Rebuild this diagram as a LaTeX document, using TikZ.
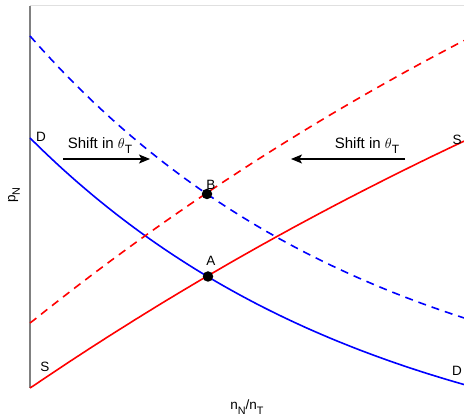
\documentclass[tikz,border=0pt]{standalone}
\usepackage{fontspec}
\setmainfont{Liberation Sans}
\usetikzlibrary{arrows.meta}
\newcommand{\lowsub}[1]{\raisebox{-0.32em}{\fontsize{0.8\dimexpr\fontdimen6\font\relax}{1}\selectfont #1}}
\begin{document}
\begin{tikzpicture}[x=1pt,y=-1pt,
  curve/.style={line width=1.6pt},
  dashcurve/.style={line width=1.6pt,dash pattern=on 8pt off 6pt},
  lbl/.style={font=\fontsize{13.5}{16}\selectfont,inner sep=0pt},
  shifttxt/.style={font=\fontsize{15}{18}\selectfont,inner sep=0pt},
  dot/.style={circle,fill=black,minimum size=10.5pt,inner sep=0pt},
  shiftarrow/.style={line width=1.3pt,-{Stealth[length=11pt,width=9pt,inset=2.5pt]}}]
\useasboundingbox (0,0) rectangle (464,419);
% frame
\draw[color=black!12,line width=1pt] (30,6) -- (464,6);
\draw[color=black!50,line width=1.5pt] (30,6) -- (30,388);
% curves
\draw[curve,blue] plot[domain=0:434,samples=80,variable=\u] ({30+\u},{482.4-344.4*exp(-0.0029*\u)});
\draw[dashcurve,blue] plot[domain=0:434,samples=80,variable=\u] ({30+\u},{429.9-393.9*exp(-0.0029*\u)});
\draw[curve,red] plot[domain=0:434,samples=80,variable=\u] ({30+\u},{-409+797*exp(-0.00085*\u)});
\draw[dashcurve,red] plot[domain=0:434,samples=80,variable=\u] ({30+\u},{-475+798*exp(-0.001*\u)});
% points
\node[dot] (A) at (208,276.5) {};
\node[dot] (B) at (207,194) {};
\node[lbl] (Alab) at (211,261) {A};
\node[lbl] (Blab) at (211,185) {B};
% curve labels
\node[lbl] (D1) at (41,137) {D};
\node[lbl] (S1) at (45,367) {S};
\node[lbl] (D2) at (457,371) {D};
\node[lbl] (S2) at (457,140) {S};
% shift arrows
\coordinate (l1) at (63,159);
\coordinate (l2) at (150,159);
\coordinate (r1) at (405,159);
\coordinate (r2) at (291,159);
\draw[shiftarrow] (l1) -- (l2);
\draw[shiftarrow] (r1) -- (r2);
\node[shifttxt,anchor=base] (t1) at (100,149) {Shift in $\theta$\lowsub{T}};
\node[shifttxt,anchor=base] (t2) at (367,149) {Shift in $\theta$\lowsub{T}};
% axis labels
\node[lbl,rotate=90] (py) at (14,195) {p\lowsub{N}};
\node[lbl] (nx) at (247,407) {n\lowsub{N}/n\lowsub{T}};
\end{tikzpicture}
\end{document}
